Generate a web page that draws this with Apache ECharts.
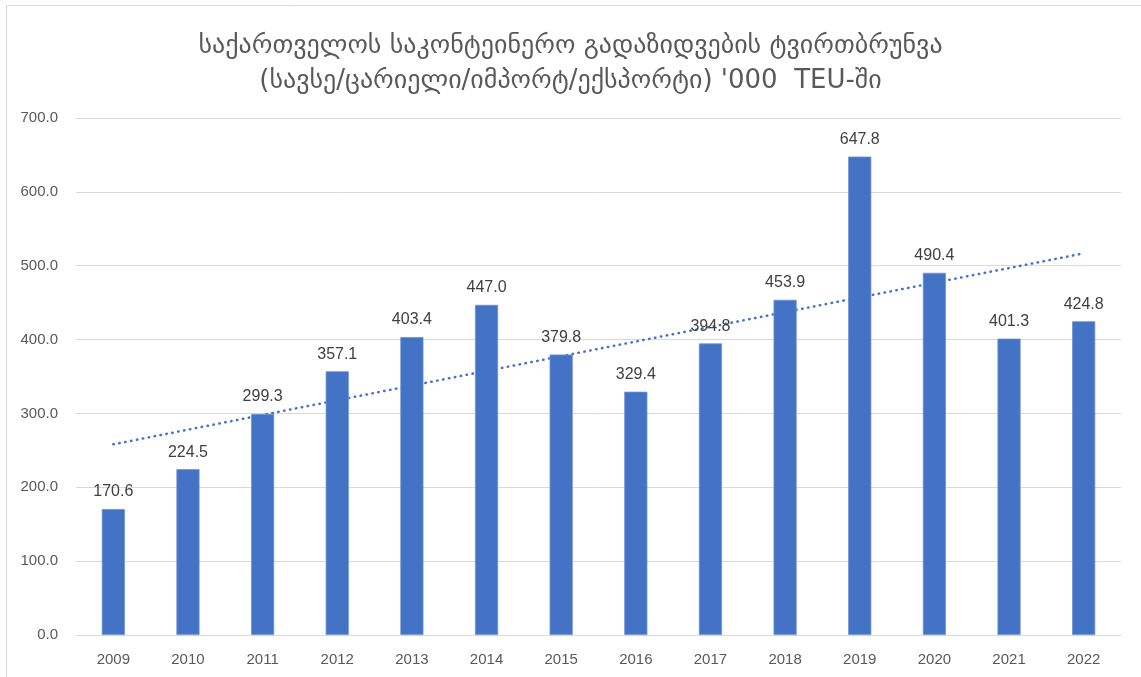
<!DOCTYPE html>
<html>
<head>
<meta charset="utf-8">
<script src="https://cdn.jsdelivr.net/npm/echarts@6/dist/echarts.min.js"></script>
<style>
html,body{margin:0;padding:0;background:#fff;}
#chart{width:1141px;height:677px;}
</style>
</head>
<body>
<div id="chart"></div>
<script>
const titleLines = ['საქართველოს საკონტეინერო გადაზიდვების ტვირთბრუნვა', "(სავსე/ცარიელი/იმპორტ/ექსპორტი) '000  TEU-ში"];
const years = ['2009','2010','2011','2012','2013','2014','2015','2016','2017','2018','2019','2020','2021','2022'];
const volumes = [170.6, 224.5, 299.3, 357.1, 403.4, 447.0, 379.8, 329.4, 394.8, 453.9, 647.8, 490.4, 401.3, 424.8];
const yTicks = { min: 0, max: 700, interval: 100 };

// Linear (least squares) trendline derived from the data, as in the original spreadsheet chart
function linearTrend(vals) {
  const n = vals.length;
  const mx = (n - 1) / 2;
  const my = vals.reduce((a, b) => a + b, 0) / n;
  let sxy = 0, sxx = 0;
  vals.forEach((v, i) => { sxy += (i - mx) * (v - my); sxx += (i - mx) * (i - mx); });
  const slope = sxy / sxx;
  return vals.map((_, i) => my + slope * (i - mx));
}
const trend = linearTrend(volumes);

const chart = echarts.init(document.getElementById('chart'), null, { renderer: 'canvas' });
chart.setOption({
  animation: false,
  backgroundColor: '#fff',
  graphic: [{
    type: 'rect',
    shape: { x: 6.5, y: 5.5, width: 1200, height: 800 },
    style: { fill: 'none', stroke: '#d9d9d9', lineWidth: 1 },
    silent: true
  }],
  title: {
    text: titleLines.join('\n'),
    left: 'center',
    top: 24,
    textStyle: {
      fontFamily: 'DejaVu Sans',
      fontSize: 26,
      fontWeight: 'normal',
      color: '#595959',
      lineHeight: 35
    }
  },
  grid: { left: 76, right: 20, top: 118, bottom: 42, containLabel: false },
  xAxis: {
    type: 'category',
    data: years,
    axisLine: { show: true, lineStyle: { color: '#d9d9d9', width: 1 } },
    axisTick: { show: false },
    axisLabel: { color: '#595959', fontSize: 15, fontFamily: 'Liberation Sans', margin: 17 }
  },
  yAxis: {
    type: 'value',
    min: yTicks.min,
    max: yTicks.max,
    interval: yTicks.interval,
    axisLine: { show: false },
    axisTick: { show: false },
    splitLine: { lineStyle: { color: '#d9d9d9', width: 1 } },
    axisLabel: {
      color: '#595959', fontSize: 15, fontFamily: 'Liberation Sans', margin: 18,
      formatter: v => v.toFixed(1)
    }
  },
  series: [
    {
      type: 'line',
      data: trend,
      symbol: 'none',
      z: 1,
      lineStyle: { color: '#4472C4', width: 2.5, type: [0.5, 5.5], cap: 'round' },
      silent: true
    },
    {
      type: 'bar',
      data: volumes,
      barWidth: '31%',
      z: 3,
      itemStyle: { color: '#4472C4', borderColor: '#6f93d4', borderWidth: 0.8 },
      label: {
        show: true,
        position: 'top',
        distance: 9,
        color: '#404040',
        fontSize: 16,
        fontFamily: 'Liberation Sans',
        formatter: p => p.value.toFixed(1)
      }
    }
  ]
});
</script>
</body>
</html>
